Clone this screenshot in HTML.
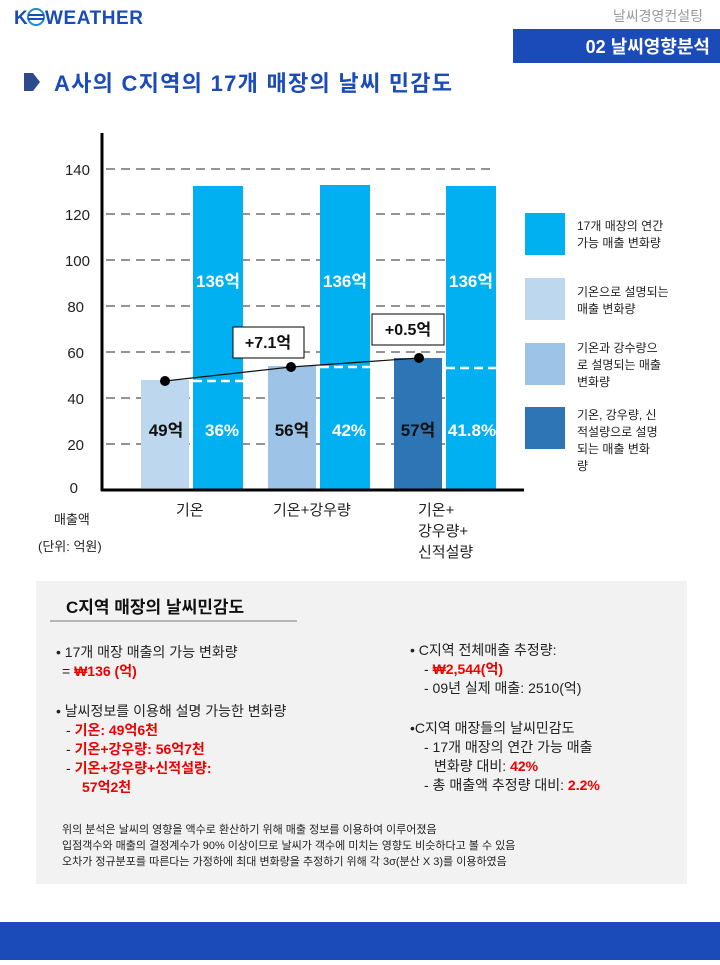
<!DOCTYPE html>
<html><head><meta charset="utf-8"><style>
body{margin:0;width:720px;height:960px;background:#fff;overflow:hidden}
svg text{font-family:"Liberation Sans","Noto Sans CJK KR",sans-serif}
</style></head><body>
<svg width="720" height="960" viewBox="0 0 720 960" xmlns="http://www.w3.org/2000/svg">
<!-- header -->
<text x="14" y="24" font-size="19" font-weight="bold" fill="#1a4bb8">K</text>
<circle cx="36" cy="17" r="8" fill="none" stroke="#1a8fd8" stroke-width="2"/>
<path d="M28 15 h16 M28 19 h16" stroke="#1a4bb8" stroke-width="2"/>
<text x="45" y="24" font-size="19" font-weight="bold" fill="#1a4bb8" textLength="98">WEATHER</text>
<text x="703" y="21" font-size="14" fill="#999" text-anchor="end">날씨경영컨설팅</text>
<rect x="513" y="29" width="207" height="34" fill="#1a4bb8"/>
<text x="710" y="53" font-size="18" font-weight="bold" fill="#fff" text-anchor="end">02 날씨영향분석</text>
<path d="M24 73 L33 73 L40 82 L33 91 L24 91 Z" fill="#2d4a8a"/>
<text x="54" y="91" font-size="22" font-weight="bold" fill="#1a4bb8" textLength="398">A사의 C지역의 17개 매장의 날씨 민감도</text>
<!-- grid -->
<g stroke="#555" stroke-width="1.3" stroke-dasharray="9,6">
<line x1="106" y1="169" x2="492" y2="169"/>
<line x1="106" y1="214" x2="492" y2="214"/>
<line x1="106" y1="260" x2="492" y2="260"/>
<line x1="106" y1="306" x2="492" y2="306"/>
<line x1="106" y1="352" x2="492" y2="352"/>
<line x1="106" y1="398" x2="492" y2="398"/>
<line x1="106" y1="444" x2="492" y2="444"/>
</g>
<g font-size="15" fill="#222" text-anchor="end">
<text x="90" y="175">140</text><text x="90" y="220">120</text><text x="90" y="266">100</text>
<text x="84" y="312">80</text><text x="84" y="358">60</text><text x="84" y="404">40</text>
<text x="84" y="450">20</text><text x="78" y="493">0</text>
</g>
<!-- bars -->
<rect x="141" y="380" width="48" height="108" fill="#bdd7ee"/>
<rect x="193" y="186" width="50" height="304" fill="#00b0f0"/>
<rect x="268" y="366" width="48" height="124" fill="#9dc3e6"/>
<rect x="320" y="185" width="50" height="305" fill="#00b0f0"/>
<rect x="394" y="358" width="48" height="132" fill="#2e75b6"/>
<rect x="446" y="186" width="50" height="304" fill="#00b0f0"/>
<g stroke="#fff" stroke-width="2.5" stroke-dasharray="9,5">
<line x1="193" y1="381" x2="243" y2="381"/>
<line x1="320" y1="367" x2="370" y2="367"/>
<line x1="446" y1="368" x2="496" y2="368"/>
</g>
<!-- axes -->
<line x1="102" y1="133" x2="102" y2="491" stroke="#000" stroke-width="3"/>
<line x1="101" y1="490" x2="524" y2="490" stroke="#000" stroke-width="3"/>
<!-- bar labels -->
<g font-size="17" font-weight="bold">
<text x="218" y="287" fill="#fff" text-anchor="middle">136억</text>
<text x="345" y="287" fill="#fff" text-anchor="middle">136억</text>
<text x="471" y="287" fill="#fff" text-anchor="middle">136억</text>
<text x="166" y="436" fill="#111" text-anchor="middle">49억</text>
<text x="292" y="436" fill="#111" text-anchor="middle">56억</text>
<text x="418" y="436" fill="#111" text-anchor="middle">57억</text>
<text x="222" y="436" fill="#fff" text-anchor="middle">36%</text>
<text x="349" y="436" fill="#fff" text-anchor="middle">42%</text>
<text x="472" y="436" fill="#fff" text-anchor="middle">41.8%</text>
</g>
<!-- line -->
<polyline points="165,381 291,367 419,358" fill="none" stroke="#111" stroke-width="1.2"/>
<circle cx="165" cy="381" r="5" fill="#000"/><circle cx="291" cy="367" r="5" fill="#000"/><circle cx="419" cy="358" r="5" fill="#000"/>
<rect x="233" y="327" width="71" height="31" fill="#fff" stroke="#000"/>
<text x="268" y="348" font-size="16" font-weight="bold" text-anchor="middle" fill="#111">+7.1억</text>
<rect x="372" y="314" width="72" height="31" fill="#fff" stroke="#000"/>
<text x="408" y="335" font-size="16" font-weight="bold" text-anchor="middle" fill="#111">+0.5억</text>
<!-- x labels -->
<g font-size="15" fill="#222">
<text x="176" y="515">기온</text>
<text x="273" y="515">기온+강우량</text>
<text x="418" y="515">기온+</text>
<text x="418" y="536">강우량+</text>
<text x="418" y="557">신적설량</text>
</g>
<text x="54" y="524" font-size="13" fill="#222">매출액</text>
<text x="38" y="551" font-size="13" fill="#222">(단위: 억원)</text>
<!-- legend -->
<rect x="525" y="213" width="40" height="42" fill="#00b0f0"/>
<rect x="525" y="278" width="40" height="42" fill="#bdd7ee"/>
<rect x="525" y="343" width="40" height="42" fill="#9dc3e6"/>
<rect x="525" y="407" width="40" height="42" fill="#2e75b6"/>
<g font-size="12" fill="#222">
<text x="577" y="230">17개 매장의 연간</text><text x="577" y="247">가능 매출 변화량</text>
<text x="577" y="296">기온으로 설명되는</text><text x="577" y="313">매출 변화량</text>
<text x="577" y="352">기온과 강수량으</text><text x="577" y="369">로 설명되는 매출</text><text x="577" y="386">변화량</text>
<text x="577" y="419">기온, 강우량, 신</text><text x="577" y="436">적설량으로 설명</text><text x="577" y="453">되는 매출 변화</text><text x="577" y="470">량</text>
</g>
<!-- gray box -->
<rect x="36" y="581" width="651" height="303" fill="#f2f2f2"/>
<text x="66" y="613" font-size="17" font-weight="bold" fill="#111">C지역 매장의 날씨민감도</text>
<line x1="50" y1="621" x2="297" y2="621" stroke="#777" stroke-width="1"/>
<g font-size="14" fill="#222">
<text x="56" y="657">• 17개 매장 매출의 가능 변화량</text>
<text x="62" y="676">= <tspan fill="#e00" font-weight="bold">₩136 (억)</tspan></text>
<text x="56" y="716">• 날씨정보를 이용해 설명 가능한 변화량</text>
<text x="66" y="735">- <tspan fill="#e00" font-weight="bold">기온: 49억6천</tspan></text>
<text x="66" y="754">- <tspan fill="#e00" font-weight="bold">기온+강우량: 56억7천</tspan></text>
<text x="66" y="773">- <tspan fill="#e00" font-weight="bold">기온+강우량+신적설량:</tspan></text>
<text x="82" y="792" fill="#e00" font-weight="bold">57억2천</text>
<text x="410" y="655">• C지역 전체매출 추정량:</text>
<text x="424" y="674">- <tspan fill="#e00" font-weight="bold">₩2,544(억)</tspan></text>
<text x="424" y="693">- 09년 실제 매출: 2510(억)</text>
<text x="410" y="733">•C지역 매장들의 날씨민감도</text>
<text x="424" y="752">- 17개 매장의 연간 가능 매출</text>
<text x="434" y="771">변화량 대비: <tspan fill="#e00" font-weight="bold">42%</tspan></text>
<text x="424" y="790">- 총 매출액 추정량 대비: <tspan fill="#e00" font-weight="bold">2.2%</tspan></text>
</g>
<g font-size="11" fill="#222">
<text x="62" y="833">위의 분석은 날씨의 영향을 액수로 환산하기 위해 매출 정보를 이용하여 이루어졌음</text>
<text x="62" y="849">입점객수와 매출의 결정계수가 90% 이상이므로 날씨가 객수에 미치는 영향도 비슷하다고 볼 수 있음</text>
<text x="62" y="865">오차가 정규분포를 따른다는 가정하에 최대 변화량을 추정하기 위해 각 3σ(분산 X 3)를 이용하였음</text>
</g>
<rect x="0" y="922" width="720" height="38" fill="#1a4bb8"/>
</svg>
</body></html>
